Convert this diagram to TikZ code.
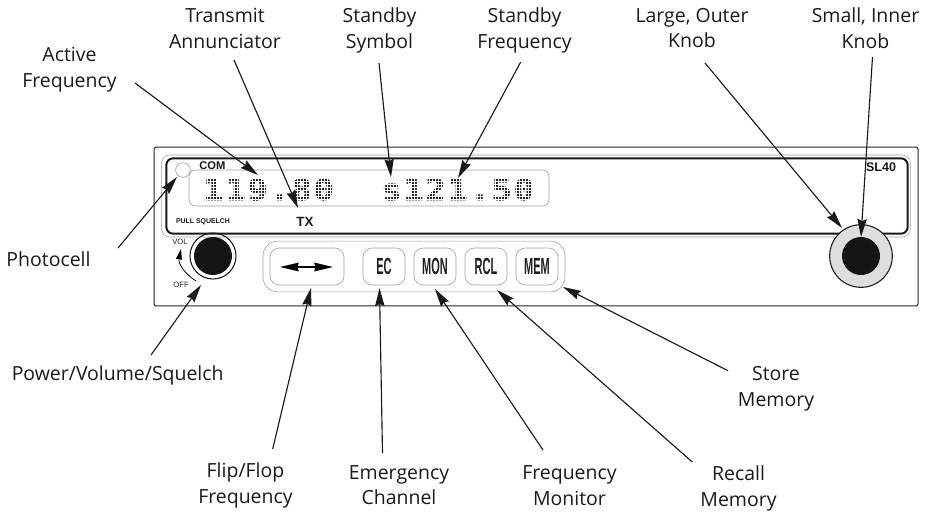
\documentclass[tikz,border=0pt]{standalone}
\usepackage{fontspec}
\setmainfont{Open Sans}
\newfontfamily\arialf{Liberation Sans}
\newfontfamily\narrowf[FakeStretch=0.47]{Liberation Sans}
\newfontfamily\lcdf[LetterSpace=6,FakeStretch=1.15,FakeBold=2]{DejaVu Sans Mono}
\usetikzlibrary{arrows.meta}
\definecolor{softline}{gray}{0.62}
\tikzset{
  lbl/.style={align=center,font=\fontsize{14.6}{19.3}\selectfont,text=black!90,inner sep=0pt,
    execute at begin node={\rule{0pt}{11pt}},execute at end node={\rule[-4pt]{0pt}{0pt}}},
  ptr/.style={line width=0.85pt,draw=black!90,-{Stealth[length=13.5pt,width=7pt,inset=1.5pt]}},
  softbox/.style={draw=softline,line width=0.45pt,rounded corners=7pt,minimum height=27.75pt,inner sep=0pt},
  btn/.style={softbox,minimum width=31.5pt,font=\narrowf\bfseries\fontsize{17.5}{18}\selectfont,text=black!88},
  tiny/.style={inner sep=0pt,font=\arialf\fontsize{5.8}{6}\selectfont,text=black!85},
  tinyb/.style={inner sep=0pt,text=black!90},
  lcd/.style={inner sep=0pt,anchor=base west,font=\lcdf\bfseries\fontsize{22}{24}\selectfont,text=black!85},
}
\begin{document}
\begin{tikzpicture}[x=0.75pt,y=-0.75pt]
\useasboundingbox (0,0) rectangle (929,515);
% panel
\node[draw=black!85,line width=0.75pt,rounded corners=1.5pt,minimum width=573pt,minimum height=119pt,inner sep=0pt] (panel) at (536,226.5) {};
\node[draw=softline,line width=0.4pt,rounded corners=6pt,minimum width=561.5pt,minimum height=61.5pt,inner sep=0pt] (dispouter) at (536,196) {};
\node[draw=black!90,line width=1.5pt,rounded corners=5pt,minimum width=556pt,minimum height=56.5pt,inner sep=0pt] (disp) at (537,196) {};
\node[draw=softline,line width=0.45pt,rounded corners=5pt,minimum width=270pt,minimum height=27pt,inner sep=0pt] (freq) at (369,188) {};
\node[circle,draw=softline,fill=white,line width=0.5pt,minimum size=11pt,inner sep=0pt] (photo) at (183,170) {};
% display text
\node[lcd] (act) at (203,200) {119.80};
\node[lcd] (stb) at (381,200) {s121.50};
\foreach \i in {0,...,9}{\draw[white,line width=0.28pt] (200,{175.5+\i*3}) -- (540,{175.5+\i*3});}
\foreach \i in {0,...,112}{\draw[white,line width=0.28pt] ({201+\i*3},172) -- ({201+\i*3},204);}
\node[tinyb,anchor=west,font=\arialf\bfseries\fontsize{8.4}{9}\selectfont] (com) at (199,165.5) {COM};
\node[tinyb,font=\arialf\bfseries\fontsize{9.4}{10}\selectfont] (sl) at (881,167) {SL40};
\node[tinyb,font=\arialf\bfseries\fontsize{5.2}{6}\selectfont] (pull) at (203,221.5) {PULL SQUELCH};
\node[tinyb,font=\arialf\bfseries\fontsize{10}{11}\selectfont] (tx) at (305,221.5) {TX};
% left knob
\node[circle,draw=black!90,line width=0.8pt,minimum size=34.5pt,inner sep=0pt] (vk) at (213,256) {};
\node[circle,fill=black!92,minimum size=28.5pt,inner sep=0pt] (vki) at (213,256) {};
\node[tiny] (vol) at (180,242) {VOL};
\node[tiny] (off) at (181,285) {OFF};
\coordinate (arcs) at (196,281);
\coordinate (arce) at (181,249);
\draw[line width=0.55pt,-{Stealth[length=8pt,width=4.5pt,inset=0.5pt]}] (arcs) .. controls (185,274) and (178,264) .. (arce);
% right knob
\node[circle,draw=black!90,fill=black!13,line width=0.8pt,minimum size=47pt,inner sep=0pt] (lk) at (861,256) {};
\node[circle,fill=black!92,minimum size=28.5pt,inner sep=0pt] (lki) at (861,256) {};
% buttons
\node[draw=softline,line width=0.45pt,rounded corners=11pt,minimum width=226.5pt,minimum height=38pt,inner sep=0pt] (grp) at (414,266.5) {};
\node[softbox,minimum width=55.5pt] (flip) at (307,266.5) {};
\node[btn] (ec) at (384,266.5) {EC};
\node[btn] (mon) at (435,266.5) {MON};
\node[btn] (rcl) at (486,266.5) {RCL};
\node[btn] (mem) at (537,266.5) {MEM};
\coordinate (fl) at (280,267);
\coordinate (fr) at (333,267);
\draw[line width=1pt,{Stealth[length=14pt,width=6.5pt,inset=1pt]}-{Stealth[length=14pt,width=6.5pt,inset=1pt]}] (fl) -- (fr);
% labels
\node[lbl] (lActive) at (69.5,69.8) {Active\\Frequency};
\node[lbl] (lTrans) at (225,30.7) {Transmit\\Annunciator};
\node[lbl] (lSym) at (379.5,30.8) {Standby\\Symbol};
\node[lbl] (lSF) at (524.5,30.8) {Standby\\Frequency};
\node[lbl] (lLarge) at (692,30.7) {Large, Outer\\Knob};
\node[lbl] (lSmall) at (865.5,30.7) {Small, Inner\\Knob};
\node[lbl] (lPhoto) at (48.5,262) {Photocell};
\node[lbl] (lPower) at (117.7,375.3) {Power/Volume/Squelch};
\node[lbl] (lFlip) at (245.5,485.5) {Flip/Flop\\Frequency};
\node[lbl] (lEC) at (399,487.8) {Emergency\\Channel};
\node[lbl] (lMon) at (569.5,488.5) {Frequency\\Monitor};
\node[lbl] (lRcl) at (738.5,488.7) {Recall\\Memory};
\node[lbl] (lStore) at (776,389.2) {Store\\Memory};
% connector ends
\coordinate (a0) at (135,83); \coordinate (a1) at (258,175);
\coordinate (b0) at (234,60); \coordinate (b1) at (298,208);
\coordinate (c0) at (379,63); \coordinate (c1) at (391,177);
\coordinate (d0) at (520.7,62); \coordinate (d1) at (458,178);
\coordinate (e0) at (705,63); \coordinate (e1) at (842,228);
\coordinate (f0) at (872.5,57); \coordinate (f1) at (861,237);
\coordinate (g0) at (118,248); \coordinate (g1) at (177,177);
\coordinate (h0) at (151,355); \coordinate (h1) at (201,285);
\coordinate (i0) at (272.7,449); \coordinate (i1) at (311,288);
\coordinate (j0) at (382.5,453); \coordinate (j1) at (379.5,288);
\coordinate (k0) at (543,450); \coordinate (k1) at (435,289);
\coordinate (l0) at (692.3,462); \coordinate (l1) at (497,290);
\coordinate (m0) at (728,370.7); \coordinate (m1) at (563,287);
\foreach \s/\t in {a0/a1,b0/b1,c0/c1,d0/d1,e0/e1,f0/f1,g0/g1,h0/h1,i0/i1,j0/j1,k0/k1,l0/l1,m0/m1}{\draw[ptr] (\s) -- (\t);}
\end{tikzpicture}
\end{document}
